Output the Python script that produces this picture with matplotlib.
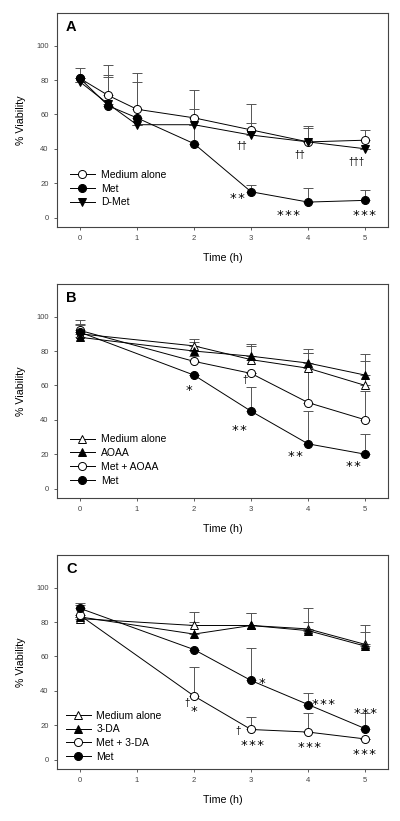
import matplotlib.pyplot as plt

plt.rcParams['font.family'] = ['Liberation Sans', 'DejaVu Sans']

# panel A
t_a = [0, 0.5, 1, 2, 3, 4, 5]
a_medium = [81, 71, 63, 58, 51, 44, 45]
a_medium_err = [6, 18, 21, 16, 15, 9, 6]
a_met = [81, 65, 58, 43, 15, 9, 10]
a_met_err = [0, 17, 21, 20, 4, 8, 6]
a_dmet = [79, 66, 54, 54, 48, 44, 40]
a_dmet_err = [0, 17, 0, 0, 7, 8, 0]

# panel B
t_b = [0, 2, 3, 4, 5]
b_medium = [90, 83, 75, 70, 60]
b_medium_err = [6, 4, 9, 9, 18]
b_aoaa = [88, 80, 77, 73, 66]
b_aoaa_err = [7, 5, 6, 6, 8]
b_met_aoaa = [92, 74, 67, 50, 40]
b_met_aoaa_err = [6, 3, 0, 31, 17]
b_met = [91, 66, 45, 26, 20]
b_met_err = [0, 0, 14, 19, 12]

# panel C
t_c = [0, 2, 3, 4, 5]
c_medium = [82, 78, 78, 76, 67]
c_medium_err = [8, 8, 7, 12, 11]
c_da = [83, 73, 78, 75, 66]
c_da_err = [0, 7, 7, 5, 8]
c_met_da = [84, 37, 17.5, 16, 12]
c_met_da_err = [0, 17, 7.5, 11, 0]
c_met = [88, 64, 46, 32, 18]
c_met_err = [3, 0, 19, 7, 9]

# significance marks (text, t, y)
a_marks = [("**", 2.76, 14), ("***", 3.66, 4), ("***", 4.98, 4),
           ("\u2020\u2020", 2.84, 41.5), ("\u2020\u2020", 3.85, 36.5), ("\u2020\u2020\u2020", 4.85, 32.5)]
b_marks = [("*", 1.91, 59.5), ("**", 2.79, 36.3), ("**", 3.78, 21.5), ("**", 4.79, 15.7),
           ("\u2020", 2.9, 63.4)]
c_marks = [("\u2020", 1.875, 33), ("*", 2.0, 30.6), ("*", 3.19, 47), ("***", 4.27, 34.5),
           ("***", 5.0, 29.5), ("\u2020", 2.78, 16.5), ("***", 3.03, 11),
           ("***", 4.03, 9.7), ("***", 4.99, 5.4)]

err_col = '#555555'
ax_col = '#444444'

fig = plt.figure(figsize=(4, 8.21), dpi=100)


def draw_series(ax, t, y, err, marker, face, label):
    ax.errorbar(t, y, yerr=[[0] * len(err), err], fmt='none', ecolor=err_col,
                elinewidth=0.7, capsize=3.5, capthick=0.7, zorder=1)
    ax.plot(t, y, color='black', lw=0.7, marker=marker, ms=5.8,
            mfc=face, mec='black', mew=0.7, label=label, zorder=3)


def draw_marks(ax, marks):
    for txt, x, y in marks:
        if "*" in txt:
            # hair spaces keep the stars apart
            ax.annotate("\u200a".join(txt), (x, y), xytext=(0, -5.8), textcoords='offset points',
                        ha='center', va='baseline', fontsize=9.5, family='DejaVu Sans')
        else:
            ax.text(x, y, txt, ha='center', va='center', fontsize=7)


def style_axes(ax, letter):
    ax.set_xlim(-0.4, 5.4)
    ax.set_ylim(-5.5, 119)
    ax.set_xticks(range(6))
    ax.set_yticks(range(0, 101, 20))
    ax.tick_params(labelsize=5.5, colors=ax_col, length=2.5, width=0.6, direction='out')
    for s in ax.spines.values():
        s.set_color(ax_col)
        s.set_linewidth(0.8)
    ax.set_xlabel("Time (h)", fontsize=7.7, labelpad=8)
    ax.set_ylabel("% Viability", fontsize=7.7, labelpad=7)
    ax.text(0.027, 0.965, letter, transform=ax.transAxes, fontsize=10.5,
            fontweight='bold', ha='left', va='top')


leg_kw = dict(loc='lower left', frameon=False, fontsize=7.5, borderpad=0, borderaxespad=0,
              handlelength=2.4, handletextpad=0.55, labelspacing=0.36)

# A
axA = fig.add_axes([0.1425, 0.7235, 0.8275, 0.2607])
draw_series(axA, t_a, a_medium, a_medium_err, 'o', 'white', 'Medium alone')
draw_series(axA, t_a, a_met, a_met_err, 'o', 'black', 'Met')
draw_series(axA, t_a, a_dmet, a_dmet_err, 'v', 'black', 'D-Met')
draw_marks(axA, a_marks)
style_axes(axA, 'A')
axA.legend(bbox_to_anchor=(0.039, 0.092), **leg_kw)

# B
axB = fig.add_axes([0.1425, 0.3934, 0.8275, 0.2607])
draw_series(axB, t_b, b_medium, b_medium_err, '^', 'white', 'Medium alone')
draw_series(axB, t_b, b_aoaa, b_aoaa_err, '^', 'black', 'AOAA')
draw_series(axB, t_b, b_met_aoaa, b_met_aoaa_err, 'o', 'white', 'Met + AOAA')
draw_series(axB, t_b, b_met, b_met_err, 'o', 'black', 'Met')
draw_marks(axB, b_marks)
style_axes(axB, 'B')
axB.legend(bbox_to_anchor=(0.039, 0.058), **leg_kw)

# C
axC = fig.add_axes([0.1425, 0.0633, 0.8275, 0.2607])
draw_series(axC, t_c, c_medium, c_medium_err, '^', 'white', 'Medium alone')
draw_series(axC, t_c, c_da, c_da_err, '^', 'black', '3-DA')
draw_series(axC, t_c, c_met_da, c_met_da_err, 'o', 'white', 'Met + 3-DA')
draw_series(axC, t_c, c_met, c_met_err, 'o', 'black', 'Met')
draw_marks(axC, c_marks)
style_axes(axC, 'C')
axC.legend(bbox_to_anchor=(0.026, 0.034), **leg_kw)

fig.savefig('out.png', dpi=100)
